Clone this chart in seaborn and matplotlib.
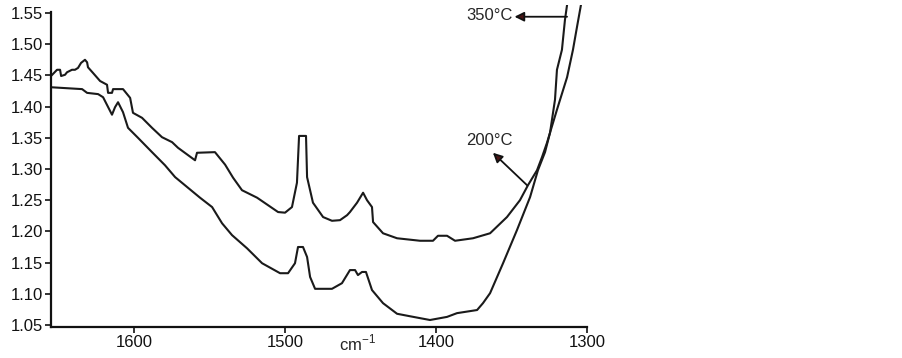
import numpy as np
import pandas as pd
import matplotlib
matplotlib.use("Agg")
import matplotlib.pyplot as plt
import seaborn as sns

# spectrum at 200 C (upper trace in the middle)
wn_200 = [1655.0, 1651.0, 1649.0, 1648.3, 1645.7, 1644.4, 1641.1, 1639.1, 1637.1, 1635.1,
          1632.5, 1631.1, 1630.5, 1627.2, 1622.5, 1617.9, 1617.2, 1614.6, 1613.9, 1607.3,
          1602.6, 1600.7, 1594.7, 1588.1, 1581.5, 1574.8, 1570.9, 1559.6, 1558.3, 1546.4,
          1539.7, 1534.4, 1528.5, 1518.5, 1504.6, 1500.0, 1495.4, 1492.1, 1490.7, 1486.1,
          1485.4, 1481.5, 1474.8, 1468.9, 1463.6, 1458.9, 1457.0, 1452.3, 1448.3, 1445.7,
          1442.4, 1441.7, 1435.1, 1425.8, 1410.6, 1402.0, 1398.7, 1392.7, 1387.4, 1375.5,
          1364.2, 1353.0, 1344.4, 1339.1, 1333.1, 1329.8, 1326.5, 1319.9, 1313.2, 1309.3,
          1306.6, 1304.0]
abs_200 = [1.449, 1.459, 1.459, 1.449, 1.451, 1.455, 1.459, 1.459, 1.462, 1.470,
           1.475, 1.471, 1.463, 1.454, 1.441, 1.435, 1.422, 1.422, 1.428, 1.428,
           1.414, 1.390, 1.382, 1.366, 1.351, 1.343, 1.334, 1.314, 1.326, 1.327,
           1.307, 1.286, 1.266, 1.254, 1.231, 1.230, 1.239, 1.278, 1.353, 1.353,
           1.287, 1.246, 1.223, 1.217, 1.218, 1.226, 1.231, 1.246, 1.262, 1.250,
           1.239, 1.215, 1.197, 1.189, 1.185, 1.185, 1.193, 1.193, 1.185, 1.189,
           1.197, 1.223, 1.250, 1.274, 1.298, 1.319, 1.342, 1.395, 1.447, 1.491,
           1.528, 1.563]

# spectrum at 350 C (lower trace in the middle)
wn_350 = [1655.0, 1634.4, 1631.1, 1623.8, 1620.5, 1614.6, 1612.6, 1610.6, 1607.3, 1604.0,
          1597.4, 1588.1, 1579.5, 1572.8, 1556.3, 1548.3, 1541.7, 1535.1, 1525.2, 1515.2,
          1503.3, 1498.0, 1493.4, 1491.4, 1488.1, 1485.4, 1483.4, 1480.1, 1468.9, 1462.3,
          1457.0, 1453.6, 1451.7, 1449.0, 1446.4, 1442.4, 1435.1, 1425.8, 1417.2, 1404.0,
          1392.7, 1386.1, 1372.8, 1368.9, 1364.2, 1355.6, 1346.4, 1337.7, 1332.5, 1327.8,
          1324.5, 1321.2, 1319.9, 1316.6, 1314.6, 1313.2]
abs_350 = [1.431, 1.428, 1.422, 1.420, 1.415, 1.387, 1.399, 1.407, 1.391, 1.366,
           1.350, 1.327, 1.306, 1.287, 1.254, 1.239, 1.213, 1.194, 1.173, 1.149,
           1.133, 1.133, 1.149, 1.175, 1.175, 1.159, 1.127, 1.108, 1.108, 1.117,
           1.138, 1.138, 1.130, 1.135, 1.135, 1.106, 1.085, 1.068, 1.064, 1.058,
           1.063, 1.069, 1.074, 1.085, 1.101, 1.149, 1.202, 1.255, 1.298, 1.327,
           1.358, 1.411, 1.459, 1.491, 1.539, 1.563]

y_ticks = [1.05, 1.10, 1.15, 1.20, 1.25, 1.30, 1.35, 1.40, 1.45, 1.50, 1.55]
x_ticks = [1600, 1500, 1400, 1300]

df = pd.concat([
    pd.DataFrame({"wn": wn_200, "A": abs_200, "T": "200"}),
    pd.DataFrame({"wn": wn_350, "A": abs_350, "T": "350"}),
])

sns.set_style("ticks")
plt.rcParams["font.family"] = ["Liberation Sans", "DejaVu Sans"]
plt.rcParams["mathtext.fontset"] = "custom"
plt.rcParams["mathtext.rm"] = "Liberation Sans"

fig = plt.figure(figsize=(9.03, 3.58), dpi=100)
ax = fig.add_axes([51 / 903, 1 - 327 / 358, 536 / 903, 322 / 358])

sns.lineplot(data=df, x="wn", y="A", units="T", estimator=None, sort=False,
             color="#1a1a1a", linewidth=1.5, ax=ax, legend=False)

ax.set_xlim(1655, 1300)
ax.set_ylim(1.0468, 1.5628)
ax.spines["top"].set_visible(False)
ax.spines["right"].set_visible(False)
ax.spines["left"].set_bounds(1.0468, 1.552)
for s in ("left", "bottom"):
    ax.spines[s].set_linewidth(1.6)
    ax.spines[s].set_color("#111111")

ax.set_yticks(y_ticks)
ax.set_yticklabels([f"{v:.2f}" for v in y_ticks])
ax.set_xticks(x_ticks)
ax.set_xticklabels([str(v) for v in x_ticks])
ax.tick_params(axis="both", direction="out", length=4, width=1.2,
               labelsize=12, colors="#111111", pad=2)
ax.set_xlabel("")
ax.set_ylabel("")

ax.text(1452, -0.05, "cm$^{-1}$", transform=ax.get_xaxis_transform(),
        ha="center", va="center", fontsize=12)

arrow_kw = dict(arrowstyle="-|>", color="#111111", lw=1.3,
                mutation_scale=14, shrinkA=0, shrinkB=0)
ax.annotate("", xy=(1348.0, 1.544), xytext=(1313.2, 1.544),
            arrowprops=dict(arrow_kw, fc="#4a1515"))
ax.text(1349.0, 1.546, "350°C", ha="right", va="center", fontsize=12)

ax.annotate("", xy=(1362.3, 1.326), xytext=(1339.7, 1.274),
            arrowprops=dict(arrow_kw, fc="#4a1515"))
ax.text(1364.9, 1.345, "200°C", ha="center", va="center", fontsize=12)

fig.savefig("out.png", dpi=100)
